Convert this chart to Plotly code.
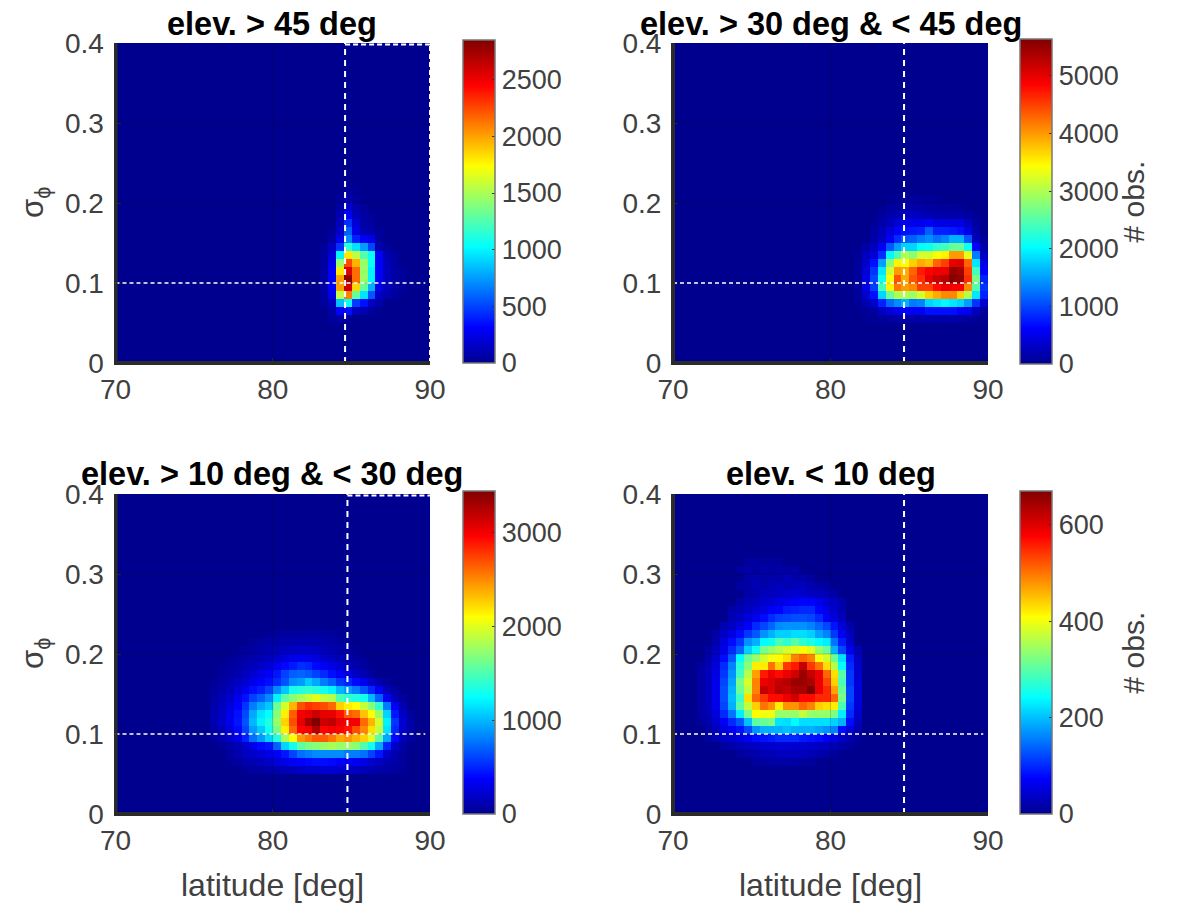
import plotly.graph_objects as go

W, H = 1178, 905
lat_start, lat_step = 70.25, 0.5
sig_start, sig_step = 0.005, 0.01
TITLES = ["elev. > 45 deg", "elev. > 30 deg & < 45 deg", "elev. > 10 deg & < 30 deg", "elev. < 10 deg"]
XTICKS = [70, 80, 90]
YTICKS = [0, 0.1, 0.2, 0.3, 0.4]
YLABELS = ["0", "0.1", "0.2", "0.3", "0.4"]
CB_TICKS = [[0, 500, 1000, 1500, 2000, 2500], [0, 1000, 2000, 3000, 4000, 5000],
            [0, 1000, 2000, 3000], [0, 200, 400, 600]]
CB_MAX = [2850, 5640, 3440, 670]
LAT_REF = [84.6, 84.67, 84.75, 84.67]
SIG_REF = 0.1


def row(first, vals):
    return [0] * first + vals + [0] * (40 - first - len(vals))


counts_a = [row(0, [])] * 5 + [
    row(27, [40, 60, 40]),
    row(27, [60, 300, 350, 130, 100, 50]),
    row(26, [30, 120, 850, 1050, 480, 350, 150, 80]),
    row(26, [50, 250, 1550, 2100, 1300, 950, 550, 150, 90, 40]),
    row(26, [60, 300, 2000, 2600, 1850, 1300, 800, 250, 130, 60, 30]),
    row(26, [60, 300, 2000, 2800, 2150, 1450, 1000, 300, 130, 60, 30]),
    row(26, [60, 300, 1800, 2550, 2150, 1450, 1000, 300, 130, 60, 30]),
    row(26, [50, 250, 1450, 2250, 1950, 1450, 1050, 300, 120, 50]),
    row(26, [40, 200, 1000, 1800, 1550, 1250, 1050, 300, 100, 50]),
    row(26, [30, 150, 450, 1150, 950, 750, 500, 90, 40]),
    row(27, [60, 250, 700, 400, 300, 250, 50]),
    row(27, [30, 150, 580, 250, 100, 80, 30]),
    row(28, [130, 450, 200, 60, 40]),
    row(28, [100, 300, 120, 50, 40]),
    row(28, [60, 170, 80, 30]),
    row(28, [30, 90, 40]),
    row(29, [40, 20]),
] + [row(0, [])] * 18

counts_b = [row(0, [])] * 5 + [
    row(24, [30, 40, 60, 100, 120, 150, 130, 130, 150, 150, 140, 140, 120, 100, 50, 30]),
    row(24, [50, 100, 300, 400, 500, 600, 550, 550, 700, 700, 700, 700, 600, 500, 250, 100]),
    row(23, [40, 200, 350, 800, 1200, 1400, 1600, 1300, 1350, 1800, 1900, 2000, 1900, 1800, 1500, 900, 350]),
    row(23, [60, 350, 700, 1800, 2600, 3000, 3000, 2900, 3200, 3700, 3900, 4100, 4100, 3700, 3000, 1900, 800]),
    row(23, [70, 450, 950, 2400, 3500, 4200, 4000, 4100, 4500, 4500, 4800, 5000, 4900, 4900, 4100, 2500, 900]),
    row(23, [70, 450, 1000, 2100, 3400, 4400, 3900, 4400, 4600, 5000, 5200, 5300, 5600, 5500, 4600, 2700, 800]),
    row(23, [70, 400, 900, 1900, 3200, 4000, 3900, 4300, 4700, 4850, 4950, 4950, 5500, 5400, 4500, 2400, 600]),
    row(23, [60, 350, 700, 1500, 2800, 3500, 3400, 3700, 3900, 3800, 4300, 4500, 5000, 5050, 4300, 1900, 450]),
    row(23, [50, 250, 400, 850, 2000, 2450, 3000, 2800, 3200, 3200, 3400, 3500, 4000, 4000, 3300, 1300, 300]),
    row(24, [130, 250, 550, 1100, 1500, 1800, 1800, 2050, 2100, 2300, 2400, 2600, 2600, 2100, 600, 150]),
    row(25, [150, 300, 550, 850, 1100, 1150, 1300, 1400, 1250, 1350, 1600, 1600, 1100, 250, 80]),
    row(25, [100, 250, 400, 600, 700, 750, 800, 1150, 800, 800, 750, 700, 500, 150]),
    row(25, [50, 150, 250, 400, 500, 500, 500, 600, 450, 450, 450, 450, 300, 100]),
    row(26, [80, 150, 200, 250, 300, 250, 200, 150, 150, 150, 150, 100, 50]),
    row(27, [100, 100, 150, 150, 120, 100, 80, 70, 60, 50]),
    row(28, [50, 60, 70, 60, 50, 40]),
] + [row(0, [])] * 19

counts_c = [row(0, [])] * 5 + [
    row(16, [30, 50, 70, 90, 110, 130, 150, 170, 200, 210, 220, 220, 200, 180, 160, 140, 110, 90, 70, 50, 30]),
    row(14, [30, 60, 100, 120, 150, 190, 250, 300, 340, 380, 400, 420, 420, 400, 380, 340, 320, 280, 220, 170, 120, 80, 40]),
    row(14, [50, 100, 160, 200, 240, 300, 350, 450, 600, 750, 800, 850, 850, 850, 850, 800, 800, 750, 600, 450, 200, 100, 50]),
    row(13, [40, 80, 130, 200, 300, 400, 450, 700, 1100, 1300, 1550, 1650, 1700, 1750, 1800, 1750, 1750, 1700, 1500, 1300, 950, 500, 200, 80]),
    row(12, [50, 110, 190, 300, 480, 750, 900, 1100, 1350, 1800, 2100, 2450, 2550, 2650, 2650, 2550, 2400, 2450, 2350, 2250, 2000, 1550, 950, 400, 150, 60]),
    row(12, [70, 150, 260, 400, 600, 900, 1050, 1300, 1650, 2150, 2600, 2950, 3000, 3250, 2950, 3000, 2950, 2900, 2700, 2500, 2200, 1900, 1150, 500, 200, 70]),
    row(12, [120, 200, 320, 450, 650, 1000, 1200, 1350, 1750, 2250, 2700, 3050, 3300, 3440, 3150, 3200, 3050, 3000, 3000, 2600, 2350, 1950, 1200, 550, 230, 80]),
    row(12, [110, 190, 300, 430, 620, 950, 1150, 1250, 1700, 2150, 2650, 3000, 3050, 3150, 3050, 3050, 2900, 2650, 2600, 2300, 2100, 1750, 1100, 450, 180, 50]),
    row(12, [90, 170, 270, 380, 550, 800, 950, 1050, 1600, 1950, 2350, 2700, 2800, 2750, 2700, 2600, 2250, 2150, 2100, 1900, 1700, 1400, 800, 350, 120]),
    row(12, [70, 130, 210, 320, 430, 600, 700, 850, 1200, 1550, 1700, 1800, 1900, 2000, 1900, 1850, 1500, 1400, 1350, 1300, 1000, 700, 350, 150, 50]),
    row(12, [50, 100, 150, 240, 320, 420, 480, 600, 850, 1050, 1300, 1350, 1400, 1350, 1300, 1200, 1000, 900, 800, 650, 500, 350, 150, 60]),
    row(12, [30, 70, 100, 160, 220, 300, 370, 420, 520, 650, 850, 900, 1050, 950, 800, 700, 550, 500, 400, 300, 200, 100, 40]),
    row(13, [40, 70, 110, 160, 220, 280, 350, 450, 600, 700, 720, 680, 600, 520, 420, 340, 260, 180, 120, 60]),
    row(13, [30, 60, 80, 110, 140, 190, 240, 320, 400, 460, 530, 500, 400, 350, 280, 230, 150, 100, 50]),
    row(14, [30, 50, 70, 100, 130, 170, 210, 260, 310, 320, 310, 260, 210, 170, 130, 90, 50, 30]),
    row(15, [30, 40, 60, 90, 110, 130, 160, 180, 190, 190, 170, 140, 110, 80, 60, 30]),
    row(17, [40, 60, 70, 80, 100, 110, 110, 110, 100, 90, 70, 50, 30]),
    row(19, [30, 40, 50, 50, 60, 60, 60, 50, 40, 30]),
] + [row(0, [])] * 17

counts_d = [row(0, [])] * 6 + [
    row(10, [10, 12, 15, 15, 15, 15, 12, 10]),
    row(8, [10, 15, 20, 25, 25, 30, 30, 30, 30, 25, 20, 15, 12]),
    row(6, [10, 20, 25, 30, 35, 40, 40, 45, 45, 45, 40, 40, 35, 30, 25, 15, 10]),
    row(4, [10, 25, 35, 40, 50, 65, 80, 85, 90, 100, 100, 100, 90, 85, 80, 70, 55, 35, 20, 10]),
    row(4, [15, 30, 50, 70, 85, 120, 170, 190, 190, 190, 200, 190, 190, 190, 180, 170, 160, 80, 50, 20]),
    row(3, [10, 20, 40, 70, 100, 130, 200, 300, 310, 320, 225, 220, 240, 220, 220, 220, 220, 210, 190, 80, 30]),
    row(3, [15, 25, 50, 100, 150, 230, 320, 410, 400, 400, 340, 340, 340, 370, 340, 340, 340, 320, 230, 100, 40]),
    row(3, [15, 30, 60, 120, 190, 300, 370, 440, 500, 480, 420, 480, 480, 510, 490, 440, 430, 420, 290, 110, 50]),
    row(3, [15, 30, 60, 125, 195, 280, 430, 510, 540, 570, 570, 590, 610, 570, 570, 550, 550, 510, 320, 120, 50]),
    row(3, [15, 30, 60, 125, 190, 310, 370, 490, 620, 600, 630, 620, 640, 640, 670, 590, 550, 470, 310, 120, 50]),
    row(3, [15, 30, 60, 120, 180, 320, 380, 490, 590, 600, 620, 630, 650, 650, 640, 590, 530, 440, 290, 110, 50]),
    row(3, [15, 30, 55, 110, 170, 280, 360, 470, 560, 590, 570, 590, 610, 650, 620, 590, 510, 430, 300, 110, 45]),
    row(3, [12, 25, 50, 100, 160, 270, 330, 420, 420, 500, 440, 540, 560, 620, 540, 500, 430, 360, 240, 100, 40]),
    row(4, [20, 40, 80, 130, 240, 310, 340, 380, 400, 410, 430, 490, 510, 490, 400, 380, 310, 220, 90, 35]),
    row(4, [15, 30, 60, 100, 140, 210, 250, 320, 340, 360, 380, 390, 410, 390, 340, 310, 190, 120, 60, 25]),
    row(5, [20, 50, 80, 110, 170, 190, 240, 250, 290, 270, 300, 270, 260, 240, 230, 150, 90, 40]),
    row(5, [15, 35, 55, 80, 110, 130, 170, 190, 210, 210, 220, 220, 210, 180, 160, 110, 65, 30]),
    row(6, [25, 35, 50, 70, 100, 120, 140, 165, 170, 170, 170, 160, 140, 120, 85, 50, 20]),
    row(7, [25, 35, 50, 60, 80, 100, 115, 120, 125, 125, 120, 100, 70, 50, 30]),
    row(7, [20, 25, 35, 45, 55, 70, 75, 90, 95, 100, 100, 75, 55, 40, 20]),
    row(8, [15, 25, 30, 40, 45, 55, 60, 70, 75, 75, 60, 45, 35, 20]),
    row(9, [15, 20, 30, 30, 35, 40, 45, 40, 35, 30, 25, 15]),
    row(8, [12, 15, 25, 20, 25, 30, 25, 30, 30, 20, 15, 12]),
    row(9, [15, 20, 15, 20, 15, 25, 15, 20, 12]),
    row(8, [10, 15, 10, 15, 12, 15, 10, 15]),
    row(9, [10, 12, 8, 10, 8]),
] + [row(0, [])] * 8

ALL_COUNTS = [counts_a, counts_b, counts_c, counts_d]

# pixel layout (left, right, top, bottom)
PLOT_BOX = [(115.5, 430, 43, 363), (673, 988, 43, 363), (115.5, 430, 494, 814), (673, 988, 494, 814)]
CB_BOX = [(463, 495, 40, 363), (1020, 1052, 39, 364), (463, 495, 491, 814), (1020, 1052, 491, 814)]
TITLE_Y = [24, 24, 474, 474]

JET = [[0, "rgb(0,0,143)"], [0.11, "rgb(0,0,255)"], [0.36, "rgb(0,255,255)"],
       [0.61, "rgb(255,255,0)"], [0.86, "rgb(255,0,0)"], [1, "rgb(128,0,0)"]]
INK = "#404040"
AXIS = "#2b2b2b"
FONT = "Liberation Sans"
TICK_SIZE = 28
CB_TICK_SIZE = 27
LABEL_SIZE = 32
OBS_SIZE = 30
SIGMA_SIZE = 31
TITLE_SIZE = 32.5

fig = go.Figure()
shapes, annotations = [], []
for k in range(4):
    l, r, t, b = PLOT_BOX[k]
    cl, cr, ct, cb = CB_BOX[k]
    xname = "xaxis" if k == 0 else f"xaxis{k + 1}"
    yname = "yaxis" if k == 0 else f"yaxis{k + 1}"
    xr = "x" if k == 0 else f"x{k + 1}"
    yr = "y" if k == 0 else f"y{k + 1}"
    fig.add_trace(go.Heatmap(
        z=ALL_COUNTS[k], x0=lat_start, dx=lat_step, y0=sig_start, dy=sig_step,
        xaxis=xr, yaxis=yr, zmin=0, zmax=CB_MAX[k], colorscale=JET, hoverongaps=False,
        colorbar=dict(
            x=cl / W, xanchor="left", xpad=0, ypad=0, y=1 - cb / H, yanchor="bottom",
            len=(cb - ct) / H, lenmode="fraction", thickness=cr - cl, thicknessmode="pixels",
            outlinecolor="#777777", outlinewidth=1.5, tickvals=CB_TICKS[k], ticks="inside",
            ticklen=3, tickcolor="#333333", tickfont=dict(family=FONT, size=CB_TICK_SIZE, color=INK),
        ),
    ))
    fig.update_layout({
        xname: dict(domain=[l / W, r / W], range=[70, 90], tickvals=XTICKS, ticks="inside",
                    ticklen=5, tickcolor=AXIS, showgrid=False, zeroline=False, showline=True,
                    linecolor=AXIS, linewidth=2, anchor=yr, mirror=False,
                    tickfont=dict(family=FONT, size=TICK_SIZE, color=INK)),
        yname: dict(domain=[1 - b / H, 1 - t / H], range=[0, 0.4], tickvals=YTICKS, ticktext=YLABELS,
                    ticks="inside", ticklen=5, tickcolor=AXIS, showgrid=False, zeroline=False,
                    showline=True, linecolor=AXIS, linewidth=2, anchor=xr, mirror=False,
                    ticklabelstandoff=4, tickfont=dict(family=FONT, size=TICK_SIZE, color=INK)),
    })
    for v in XTICKS[1:2]:
        shapes.append(dict(type="line", xref=xr, yref=yr, x0=v, x1=v, y0=0, y1=0.4, layer="above",
                           line=dict(color="rgba(0,0,0,0.18)", width=1)))
    for v in YTICKS[1:4]:
        shapes.append(dict(type="line", xref=xr, yref=yr, x0=70, x1=90, y0=v, y1=v, layer="above",
                           line=dict(color="rgba(0,0,0,0.18)", width=1)))
    shapes.append(dict(type="line", xref=xr, yref=yr, x0=LAT_REF[k], x1=LAT_REF[k], y0=0, y1=0.4,
                       layer="above", line=dict(color="white", width=2, dash="6px,5px")))
    shapes.append(dict(type="line", xref=xr, yref=yr, x0=70, x1=89.7, y0=SIG_REF, y1=SIG_REF,
                       layer="above", line=dict(color="white", width=1.5, dash="4px,3px")))
    if k in (0, 2):
        shapes.append(dict(type="line", xref=xr, yref=yr, x0=LAT_REF[k], x1=90, y0=0.398, y1=0.398,
                           layer="above", line=dict(color="white", width=2, dash="5px,3px")))
    if k == 0:
        shapes.append(dict(type="line", xref=xr, yref=yr, x0=90, x1=90, y0=0, y1=0.4,
                           layer="above", line=dict(color="white", width=2, dash="5px,3px")))
    # the axis bars straddle the plot edge, over the cells
    shapes.append(dict(type="line", xref=xr, yref=yr, x0=70, x1=70, y0=0, y1=0.4, layer="above",
                       line=dict(color=AXIS, width=4)))
    shapes.append(dict(type="line", xref=xr, yref=yr, x0=70, x1=90, y0=0, y1=0, layer="above",
                       line=dict(color=AXIS, width=4)))
    annotations.append(dict(text=f"<b>{TITLES[k]}</b>", xref="paper", yref="paper", x=(114 + 430 if k in (0, 2) else 673 + 988) / 2 / W,
                            y=1 - TITLE_Y[k] / H, xanchor="center", yanchor="middle", showarrow=False,
                            font=dict(family=FONT, size=TITLE_SIZE, color="#000000")))
    if k in (2, 3):
        annotations.append(dict(text="latitude [deg]", xref="paper", yref="paper", x=(l + r) / 2 / W,
                                y=1 - 885 / H, xanchor="center", yanchor="middle", showarrow=False,
                                font=dict(family=FONT, size=LABEL_SIZE, color=INK)))
    if k in (0, 2):
        annotations.append(dict(text="σ<sub>ϕ</sub>", xref="paper", yref="paper", x=35 / W,
                                y=1 - (t + b) / 2 / H, xanchor="center", yanchor="middle", showarrow=False,
                                textangle=-90, font=dict(family=FONT, size=SIGMA_SIZE, color=INK)))
    else:
        annotations.append(dict(text="# obs.", xref="paper", yref="paper", x=1133 / W,
                                y=1 - (ct + cb) / 2 / H, xanchor="center", yanchor="middle", showarrow=False,
                                textangle=-90, font=dict(family=FONT, size=OBS_SIZE, color=INK)))

fig.update_layout(width=W, height=H, margin=dict(l=0, r=0, t=0, b=0, autoexpand=False), paper_bgcolor="white",
                  plot_bgcolor="rgb(0,0,143)", shapes=shapes, annotations=annotations, showlegend=False)
fig.write_html("out.html", post_script="document.body.style.margin='0';", config={"displayModeBar": False})
